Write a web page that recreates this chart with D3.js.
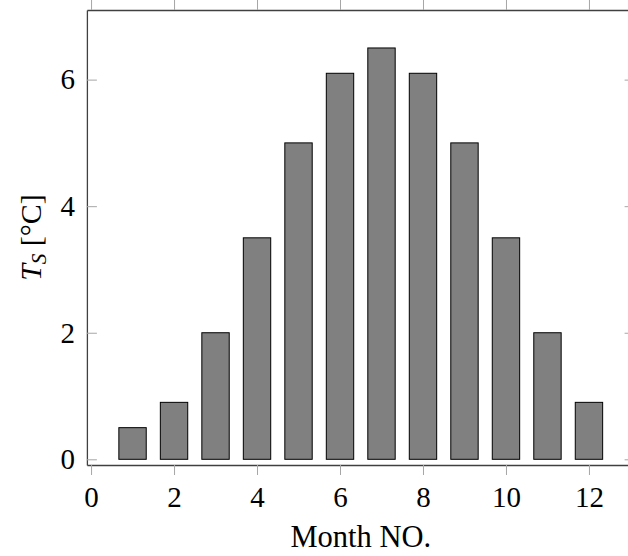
<!DOCTYPE html>
<html>
<head>
<meta charset="utf-8">
<script src="https://cdn.jsdelivr.net/npm/d3@7"></script>
<style>
	body { margin: 0; background: #fff; }
	svg { display: block; }
</style>
</head>
<body>
<div id="chart"></div>
<script>
// data
var months = [1, 2, 3, 4, 5, 6, 7, 8, 9, 10, 11, 12];
var temps = [0.5, 0.9, 2, 3.5, 5, 6.1, 6.5, 6.1, 5, 3.5, 2, 0.9];
var xticks = [0, 2, 4, 6, 8, 10, 12];
var yticks = [0, 2, 4, 6];

var w = 628;
var h = 556;
var font = "Liberation Serif";
var fontSize = 29;
var barWidth = 0.66;	// in month units

var svg = d3.select("#chart")
			.append("svg")
			.attr("width", w)
			.attr("height", h)
			.attr("font-family", font);

var x = d3.scaleLinear().domain([-0.1, 13.1]).range([86.9, 634.6]);
var y = d3.scaleLinear().domain([-0.09, 7.1]).range([465, 10]);

// bars
svg.selectAll("rect.bar")
	.data(temps)
	.enter()
	.append("rect")
	.attr("class", "bar")
	.attr("x", function(d, i) {
		return x(months[i] - barWidth / 2);
	})
	.attr("width", function() {
		return x(barWidth) - x(0);
	})
	.attr("y", function(d) {
		return y(d);
	})
	.attr("height", function(d) {
		return y(0) - y(d);
	})
	.attr("fill", "#808080")
	.attr("stroke", "#000")
	.attr("stroke-width", 1);

// axes
var bottom = svg.append("g")
	.attr("transform", "translate(0," + y.range()[0] + ")")
	.call(d3.axisBottom(x).tickValues(xticks).tickSizeInner(10).tickSizeOuter(0).tickPadding(11.4));

var top_axis = svg.append("g")
	.attr("transform", "translate(0," + y.range()[1] + ")")
	.call(d3.axisTop(x).tickValues(xticks).tickSizeInner(10).tickSizeOuter(0).tickFormat(""));

var left = svg.append("g")
	.attr("transform", "translate(" + x.range()[0] + ",0)")
	.call(d3.axisLeft(y).tickValues(yticks).tickSizeInner(-10).tickSizeOuter(0).tickPadding(12));

var right = svg.append("g")
	.attr("transform", "translate(" + x.range()[1] + ",0)")
	.call(d3.axisRight(y).tickValues(yticks).tickSizeInner(-10).tickSizeOuter(0).tickFormat(""));

[bottom, top_axis, left, right].forEach(function(g) {
	g.attr("font-family", font).attr("font-size", fontSize);
	g.select(".domain").attr("stroke", "#404040").attr("stroke-width", 1.3);
	g.selectAll(".tick line").attr("stroke", "#a6a6a6").attr("stroke-width", 1);
	g.selectAll(".tick text").attr("fill", "#000");
});

// axis labels
svg.append("text")
	.attr("x", (x.range()[0] + x.range()[1]) / 2)
	.attr("y", 546.7)
	.attr("text-anchor", "middle")
	.attr("font-size", 30.5)
	.text("Month NO.");

var ylab = svg.append("text")
	.attr("transform", "translate(41," + (y.range()[0] + y.range()[1]) / 2 + ") rotate(-90)")
	.attr("text-anchor", "middle")
	.attr("font-size", 30);
ylab.append("tspan").attr("font-style", "italic").text("T");
ylab.append("tspan").attr("font-style", "italic").attr("font-size", 21).attr("dy", 5).text("S");
ylab.append("tspan").attr("dy", -5).text(" [°C]");
</script>
</body>
</html>
